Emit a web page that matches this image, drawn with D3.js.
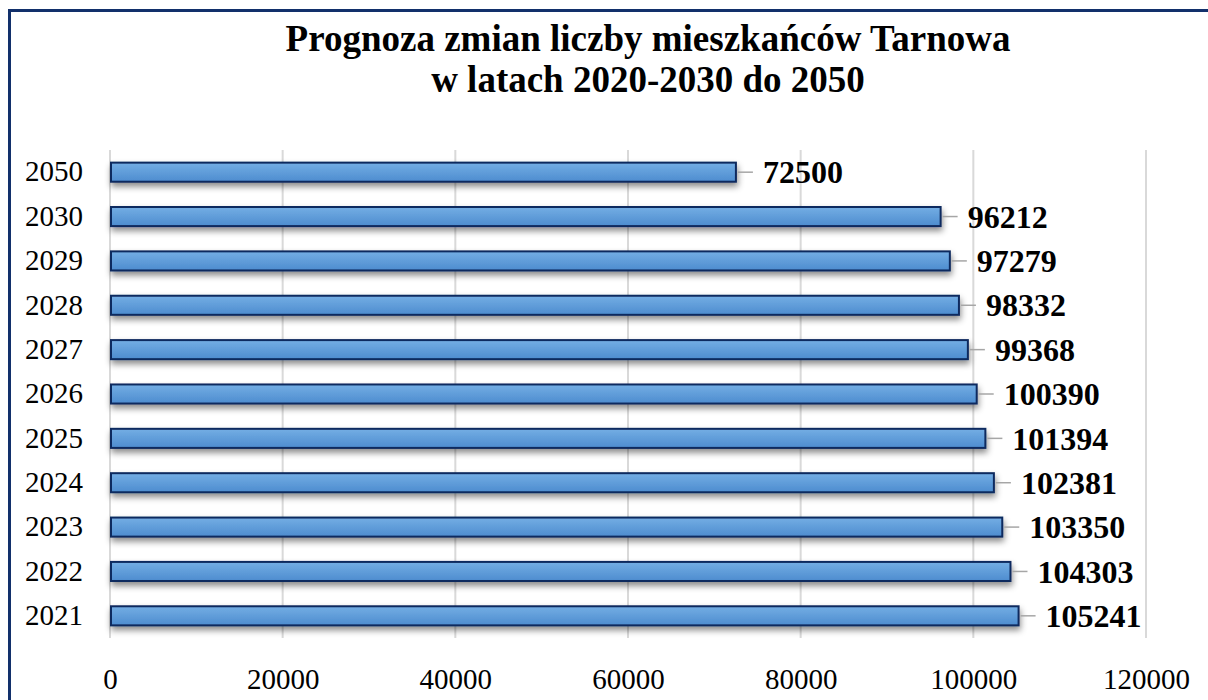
<!DOCTYPE html>
<html>
<head>
<meta charset="utf-8">
<script src="https://cdn.jsdelivr.net/npm/d3@7"></script>
<style>
  body { margin: 0; background: #fff; overflow: hidden; }
  svg { display: block; font-family: "Liberation Serif", "Times New Roman", serif; }
</style>
</head>
<body>
<svg width="1208" height="700"></svg>
<script>
// chart data
var years = ["2050", "2030", "2029", "2028", "2027", "2026", "2025", "2024", "2023", "2022", "2021"];
var population = [72500, 96212, 97279, 98332, 99368, 100390, 101394, 102381, 103350, 104303, 105241];
var xTicks = [0, 20000, 40000, 60000, 80000, 100000, 120000];
var titleLines = ["Prognoza zmian liczby mieszkańców Tarnowa", "w latach 2020-2030 do 2050"];

var data = years.map(function (y, i) { return { year: y, value: population[i] }; });

var svg = d3.select("svg");
var margin = { top: 150, left: 110 },
	width = 1036,
	height = 488;

// outer frame: only the left and top edges are inside the picture
svg.append("line")
	.attr("x1", 9.5).attr("x2", 9.5)
	.attr("y1", 9).attr("y2", 700)
	.attr("stroke", "#12306b")
	.attr("stroke-width", 3);
svg.append("line")
	.attr("x1", 8).attr("x2", 1208)
	.attr("y1", 10.5).attr("y2", 10.5)
	.attr("stroke", "#12306b")
	.attr("stroke-width", 3);

var defs = svg.append("defs");
var grad = defs.append("linearGradient")
	.attr("id", "barGrad")
	.attr("x1", 0).attr("y1", 0).attr("x2", 0).attr("y2", 1);
grad.append("stop").attr("offset", "0%").attr("stop-color", "#74aee4");
grad.append("stop").attr("offset", "100%").attr("stop-color", "#4d8ccf");

var shadow = defs.append("filter")
	.attr("id", "shadow")
	.attr("x", "-5%").attr("y", "-50%")
	.attr("width", "110%").attr("height", "250%");
shadow.append("feDropShadow")
	.attr("dx", 1).attr("dy", 4)
	.attr("stdDeviation", 3)
	.attr("flood-color", "#000")
	.attr("flood-opacity", 0.45);

var g = svg.append("g").attr("transform", "translate(" + margin.left + "," + margin.top + ")");

var x = d3.scaleLinear().domain([0, 120000]).range([0, width]);
var y = d3.scaleBand().domain(years).range([0, height]).paddingInner(0.57).paddingOuter(0.285);

// vertical grid
g.append("g")
	.selectAll("line")
	.data(xTicks)
	.enter().append("line")
	.attr("x1", function (d) { return x(d); })
	.attr("x2", function (d) { return x(d); })
	.attr("y1", 0).attr("y2", height)
	.attr("stroke", "#d9d9d9")
	.attr("stroke-width", 2);

// x axis labels
var xAxis = g.append("g")
	.attr("transform", "translate(0," + (height + 27) + ")")
	.call(d3.axisBottom(x).tickValues(xTicks).tickFormat(d3.format("d")).tickSize(0));
xAxis.select(".domain").remove();
xAxis.selectAll("text")
	.attr("font-family", "Liberation Serif, Times New Roman, serif")
	.attr("font-size", 29)
	.attr("fill", "#000");

// y axis labels
var yAxis = g.append("g")
	.attr("transform", "translate(-24,0)")
	.call(d3.axisLeft(y).tickSize(0));
yAxis.select(".domain").remove();
yAxis.selectAll("text")
	.attr("font-family", "Liberation Serif, Times New Roman, serif")
	.attr("font-size", 29)
	.attr("fill", "#000");

// bars
g.selectAll(".bar")
	.data(data)
	.enter().append("rect")
	.attr("class", "bar")
	.attr("x", x(0) + 1)
	.attr("y", function (d) { return y(d.year); })
	.attr("width", function (d) { return x(d.value) - x(0) - 1; })
	.attr("height", y.bandwidth())
	.attr("fill", "url(#barGrad)")
	.attr("stroke", "#0f2a5e")
	.attr("stroke-width", 2)
	.attr("filter", "url(#shadow)");

// leader lines
g.selectAll(".leader")
	.data(data)
	.enter().append("line")
	.attr("class", "leader")
	.attr("x1", function (d) { return x(d.value) + 2; })
	.attr("x2", function (d) { return x(d.value) + 17; })
	.attr("y1", function (d) { return y(d.year) + y.bandwidth() / 2; })
	.attr("y2", function (d) { return y(d.year) + y.bandwidth() / 2; })
	.attr("stroke", "#a6a6a6")
	.attr("stroke-width", 1.5);

// value labels
g.selectAll(".label")
	.data(data)
	.enter().append("text")
	.attr("class", "label")
	.attr("x", function (d) { return x(d.value) + 27; })
	.attr("y", function (d) { return y(d.year) + y.bandwidth() / 2; })
	.attr("dy", "0.35em")
	.attr("font-size", 32)
	.attr("font-weight", "bold")
	.attr("fill", "#000")
	.text(function (d) { return d.value; });

// title
svg.append("g")
	.selectAll("text")
	.data(titleLines)
	.enter().append("text")
	.attr("x", 648)
	.attr("y", function (d, i) { return 51 + i * 41; })
	.attr("text-anchor", "middle")
	.attr("font-size", 37)
	.attr("font-weight", "bold")
	.attr("fill", "#000")
	.text(function (d) { return d; });
</script>
</body>
</html>
